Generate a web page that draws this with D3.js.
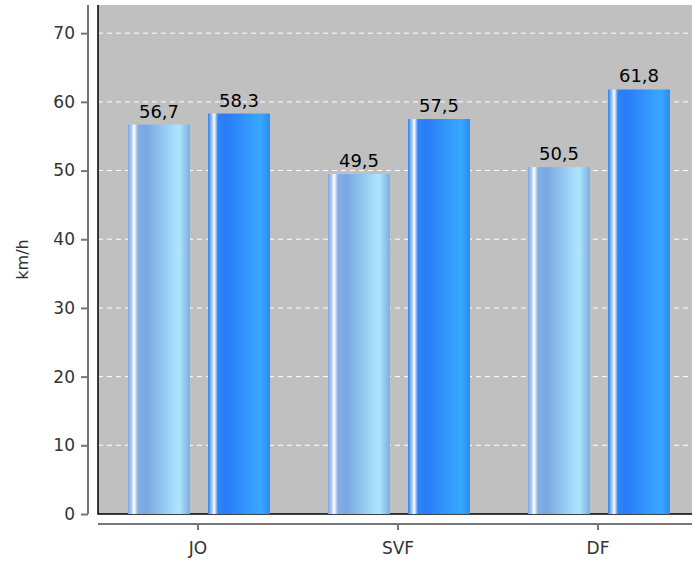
<!DOCTYPE html>
<html><head><meta charset="utf-8">
<script src="https://cdn.jsdelivr.net/npm/d3@7"></script>
<style>body{margin:0;background:#fff}text{font-family:"DejaVu Sans",sans-serif}</style>
</head><body><div id="main"></div>
<script>
//data
const categories = ['JO', 'SVF', 'DF'];
const series1 = [56.7, 49.5, 50.5];
const series2 = [58.3, 57.5, 61.8];
const yTicks = [0, 10, 20, 30, 40, 50, 60, 70];

const W = 693, H = 563;
const pLeft = 98, pRight = 692, pTop = 5, pBottom = 514;

const svg = d3.select('#main').append('svg').attr('width', W).attr('height', H);

const x = d3.scaleBand().domain(categories).range([pLeft, pRight + 6]).paddingInner(0).paddingOuter(0);
const y = d3.scaleLinear().domain([0, 74.1]).range([pBottom, pTop]);

const defs = svg.append('defs');
function grad(id, stops) {
  const g = defs.append('linearGradient').attr('id', id).attr('x1', 0).attr('x2', 1).attr('y1', 0).attr('y2', 0);
  stops.forEach(s => g.append('stop').attr('offset', s[0]).attr('stop-color', s[1]));
}
grad('g1', [[0, '#7ea6e4'], [0.05, '#a9c6f0'], [0.1, '#ffffff'], [0.16, '#85aee6'], [0.3, '#7aa8e2'], [0.82, '#aee6ff'], [1, '#7caee6']]);
grad('g2', [[0, '#3080ee'], [0.05, '#8ab8f6'], [0.1, '#ffffff'], [0.16, '#2f82f2'], [0.3, '#2a7cf8'], [0.85, '#38a8ff'], [1, '#2a8cf0']]);

svg.append('rect').attr('x', pLeft).attr('y', pTop).attr('width', pRight - pLeft).attr('height', pBottom - pTop).attr('fill', '#c0c0c0');

// grid
svg.selectAll('.grid').data(yTicks.filter(d => d > 0)).enter().append('line')
  .attr('x1', pLeft).attr('x2', pRight).attr('y1', d => y(d)).attr('y2', d => y(d))
  .attr('stroke', '#fff').attr('stroke-dasharray', '5,4').attr('stroke-width', 1);

// panel border
svg.append('path').attr('d', `M${pLeft},${pTop}V${pBottom}H${pRight}`).attr('fill', 'none').attr('stroke', '#000').attr('stroke-width', 1.5);

const bw = 62, off1 = -70, off2 = 10;
const fmt = d => d.toFixed(1).replace('.', ',');
[[series1, 'g1', off1], [series2, 'g2', off2]].forEach(([vals, g, off]) => {
  svg.selectAll(null).data(vals).enter().append('rect')
    .attr('x', (d, i) => x(categories[i]) + x.bandwidth() / 2 + off)
    .attr('y', d => y(d)).attr('width', bw).attr('height', d => pBottom - y(d))
    .attr('fill', `url(#${g})`);
  svg.selectAll(null).data(vals).enter().append('text')
    .attr('x', (d, i) => x(categories[i]) + x.bandwidth() / 2 + off + bw / 2)
    .attr('y', d => y(d) - 7).attr('text-anchor', 'middle').attr('font-size', 18).text(fmt);
});

// y axis
const ya = svg.append('g').attr('transform', 'translate(88,0)')
  .call(d3.axisLeft(y).tickValues(yTicks).tickSize(7).tickPadding(6));
ya.select('.domain').attr('d', `M-0,${pTop}V${pBottom}`).attr('stroke', '#777').attr('stroke-width', 2);
ya.selectAll('.tick line').attr('stroke', '#777').attr('stroke-width', 2);
ya.selectAll('text').attr('font-size', 17).attr('fill', '#333');

// x axis
const xa = svg.append('g').attr('transform', 'translate(0,524)')
  .call(d3.axisBottom(x).tickSize(6).tickPadding(12));
xa.select('.domain').attr('d', `M${pLeft},0H${pRight}`).attr('stroke', '#777').attr('stroke-width', 2);
xa.selectAll('.tick line').attr('stroke', '#777').attr('stroke-width', 2);
xa.selectAll('text').attr('font-size', 17).attr('fill', '#333');

svg.append('text').attr('transform', `translate(28,${(pTop + pBottom) / 2}) rotate(-90)`)
  .attr('text-anchor', 'middle').attr('font-size', 16).attr('fill', '#333').text('km/h');
</script></body></html>
